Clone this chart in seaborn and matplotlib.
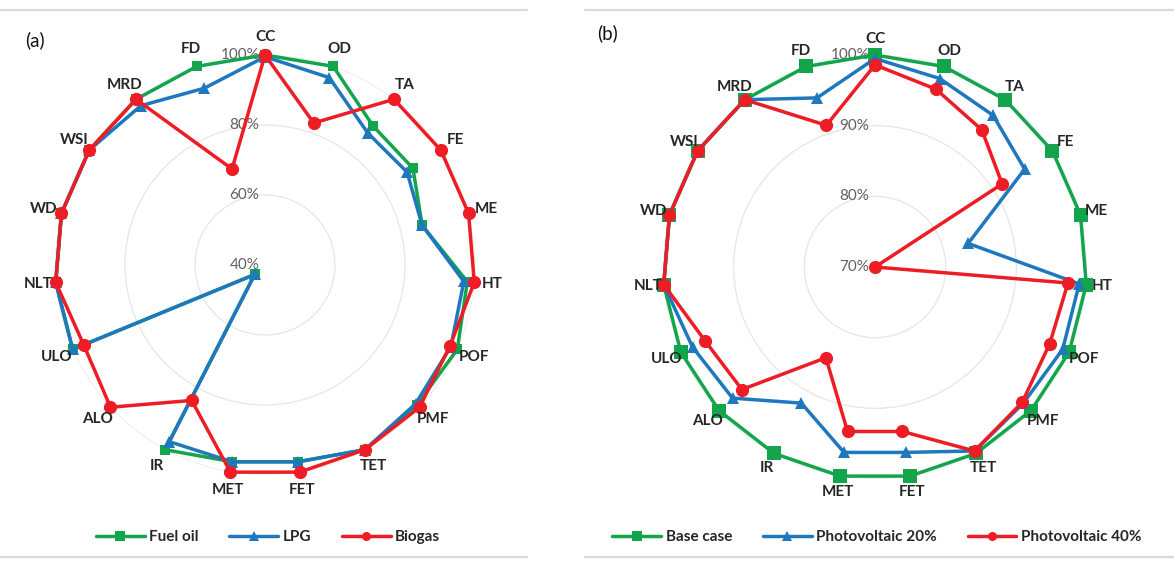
import numpy as np
import pandas as pd
import matplotlib
matplotlib.use("Agg")
import matplotlib.pyplot as plt
import seaborn as sns
from matplotlib.lines import Line2D

categories = ["CC", "OD", "TA", "FE", "ME", "HT", "POF", "PMF", "TET", "FET",
              "MET", "IR", "ALO", "ULO", "NLT", "WD", "WSI", "MRD", "FD"]

# Panel (a)
fuel_oil = [100, 100, 90.3, 90.5, 86.3, 98, 100, 99, 100, 97,
            97, 100, 44, 100, 100, 100, 100, 100, 100]
lpg = [99.5, 96.6, 87.8, 88.5, 86.3, 97, 98, 98.5, 100, 97,
       97, 97.4, 44, 100, 100, 100, 100, 97.7, 93.4]
biogas = [100, 82.9, 100, 100, 100, 100, 97.7, 100, 100, 100,
          100, 84, 100, 96.6, 100, 100, 100, 100, 69]

# Panel (b)
base_case = [100, 100, 100, 100, 100, 100, 100, 100, 100, 100,
             100, 100, 100, 100, 100, 100, 100, 100, 100]
pv20 = [99.5, 98.2, 97.2, 95.3, 83.6, 99, 99, 98.5, 99.6, 96.6,
        96.6, 91.9, 97.4, 98.2, 100, 100, 100, 100, 95.3]
pv40 = [98.6, 96.6, 94.6, 91.5, 70, 97.4, 97, 98.3, 99.6, 93.6,
        93.6, 84.6, 95.6, 96.2, 100, 100, 100, 100, 91.2]

ticks_a = [40, 60, 80, 100]
ticks_b = [70, 80, 90, 100]

series_a = ["Fuel oil", "LPG", "Biogas"]
series_b = ["Base case", "Photovoltaic 20%", "Photovoltaic 40%"]

GREEN = "#13A54C"
BLUE = "#1F78BE"
RED = "#EE1C24"

sns.set_theme(style="white")
plt.rcParams["font.family"] = ["Lato", "DejaVu Sans"]

W, H = 1174, 563
fig = plt.figure(figsize=(W / 100, H / 100), dpi=100)
fig.patch.set_facecolor("white")


def px_axes(cx, cy, R):
    return [(cx - R) / W, (H - cy - R) / H, 2 * R / W, 2 * R / H]


n = len(categories)
theta = np.arange(n) * 2 * np.pi / n
theta_closed = np.append(theta, theta[0] + 2 * np.pi)


def radar(ax, values_list, names, colors, markers, msizes, ticks, label_r):
    ax.set_theta_zero_location("N")
    ax.set_theta_direction(-1)
    ax.set_ylim(ticks[0], ticks[-1])
    ax.set_yticks(ticks)
    ax.set_yticklabels([])
    ax.set_xticks(theta)
    ax.set_xticklabels([])
    ax.xaxis.grid(False)
    ax.yaxis.grid(True, color="#E6E6E6", lw=0.9)
    ax.spines["polar"].set_visible(False)
    ax.set_facecolor("none")
    for t in ticks:
        ax.annotate(f"{t}%", xy=(0, t), xytext=(-4, 0), textcoords="offset points",
                    ha="right", va="center", color="#606060", fontsize=11, zorder=1,
                    annotation_clip=False)
    for vals, name, c, m, ms in zip(values_list, names, colors, markers, msizes):
        df = pd.DataFrame({"theta": theta_closed, "value": np.append(vals, vals[0])})
        sns.lineplot(data=df, x="theta", y="value", ax=ax, sort=False, estimator=None,
                     color=c, lw=2.5, marker=m, markersize=ms, markeredgewidth=0,
                     legend=False, zorder=3, clip_on=False)
    for t, cat in zip(theta, categories):
        ax.text(t, label_r, cat, ha="center", va="center", fontsize=11,
                fontweight="bold", color="#262626", clip_on=False)
    ax.set_xlabel("")
    ax.set_ylabel("")


ax_a = fig.add_axes(px_axes(265, 265, 210), projection="polar")
radar(ax_a, [fuel_oil, lpg, biogas], series_a, [GREEN, BLUE, RED],
      ["s", "^", "o"], [7, 8, 9.5], ticks_a, 40 + 60 * 228 / 210)

ax_b = fig.add_axes(px_axes(875, 267, 212), projection="polar")
radar(ax_b, [base_case, pv20, pv40], series_b, [GREEN, BLUE, RED],
      ["s", "^", "o"], [9.5, 8, 9.5], ticks_b, 70 + 30 * 228 / 212)

# panel labels
fig.text(25 / W, 1 - 40 / H, "(a)", fontsize=13.5, color="#111111", va="center")
fig.text(597 / W, 1 - 33 / H, "(b)", fontsize=13.5, color="#111111", va="center")


def legend(names, x_center):
    handles = [Line2D([], [], color=c, lw=2.5, marker=m, markersize=6.5, markeredgewidth=0)
               for c, m in zip([GREEN, BLUE, RED], ["s", "^", "o"])]
    leg = fig.legend(handles, names, loc="center", bbox_to_anchor=(x_center / W, 1 - 537 / H),
                     ncol=3, frameon=False, handlelength=3.2, handletextpad=0.3,
                     columnspacing=2.0, prop={"size": 11, "weight": "bold"})
    for t in leg.get_texts():
        t.set_color("#262626")


legend(series_a, 268)
legend(series_b, 877)

# panel borders (light top/bottom rules)
for x0, x1 in [(0, 527), (585, 1174)]:
    for y in [10, 557]:
        fig.add_artist(Line2D([x0 / W, x1 / W], [1 - y / H, 1 - y / H],
                              color="#DADADA", lw=1.6, transform=fig.transFigure))

fig.savefig("out.png", dpi=100, facecolor="white")
